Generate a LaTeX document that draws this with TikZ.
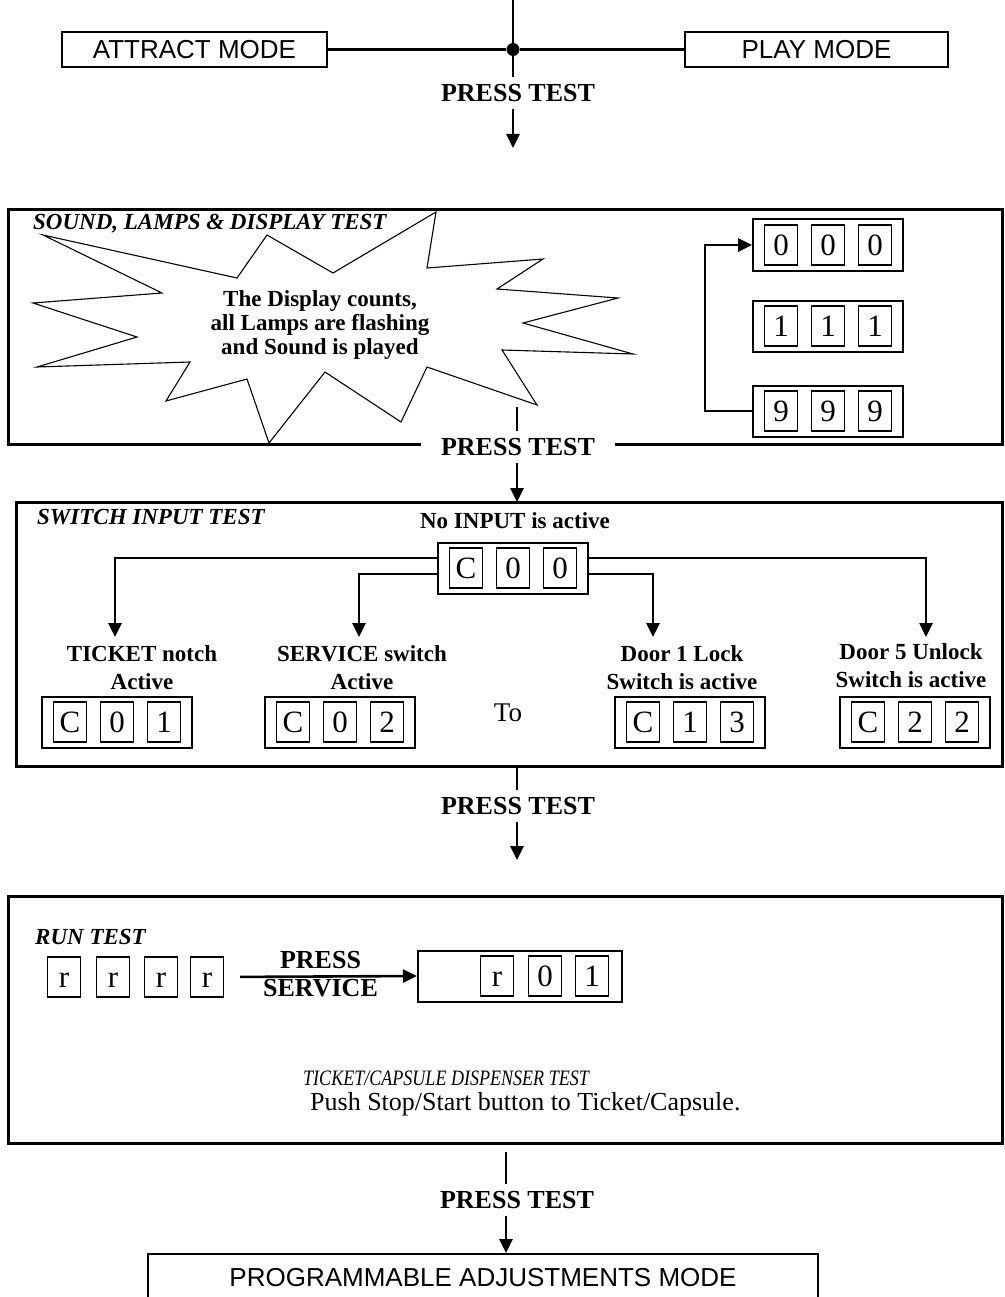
\documentclass[tikz,border=0pt]{standalone}
\usepackage{fontspec}
\setmainfont{Liberation Serif}
\newfontfamily\arialfont{Liberation Sans}
\usetikzlibrary{positioning, arrows.meta}

% one display: outer frame and three digit windows
\newcommand{\dispbox}[5]{%
  \node[panel] (#1) at #2 {};
  \node[digit] (#1a) at ([xshift=-47pt]#1.center) {#3};
  \node[digit] (#1b) at (#1.center) {#4};
  \node[digit] (#1c) at ([xshift=47pt]#1.center) {#5};
}

\begin{document}
\begin{tikzpicture}[x=1pt, y=-1pt,
    testframe/.style={draw, line width=3pt},
    modebox/.style={draw, line width=2pt, minimum height=35pt, font=\arialfont\fontsize{26}{30}\selectfont},
    panel/.style={draw, line width=2pt, minimum width=150pt, minimum height=51pt},
    digit/.style={draw, line width=1.1pt, minimum width=33pt, minimum height=40pt, inner sep=0pt,
      text height=21pt, text depth=0pt, font=\fontsize{31}{31}\selectfont},
    press/.style={font=\bfseries\fontsize{26}{30}\selectfont, align=center, inner xsep=2pt, inner ysep=7pt},
    boldtext/.style={font=\bfseries\fontsize{23}{28}\selectfont, align=center},
    heading/.style={font=\bfseries\itshape\fontsize{23}{28}\selectfont, anchor=west, inner sep=0pt},
    link/.style={line width=2.6pt},
    flow/.style={link, -{Triangle[length=14pt, width=13pt]}},
  ]
  \useasboundingbox (0,0) rectangle (1004,1297);
  \clip (0,0) rectangle (1004,1297);

  % mode selection
  \node[modebox, minimum width=265pt] (attract) at (194.5,49.5) {ATTRACT MODE};
  \node[modebox, minimum width=263pt] (play) at (816.5,49.5) {PLAY MODE};
  \node[circle, fill, inner sep=0pt, minimum size=13pt] (join) at (513,49.5) {};
  \coordinate (entry) at (513,0);
  \node[press] (pt0) at (518,93) {PRESS TEST};
  \coordinate (arr0) at (513,148);
  \draw[line width=2.2pt] (attract) -- (join) -- (play);
  \draw[line width=1.8pt] (entry) -- (join) -- (join |- pt0.north);
  \draw[flow] (pt0.south -| join) -- (arr0);

  % sound, lamps & display test
  \draw[testframe] (8,210) rectangle (1002,444);
  \draw[line width=1.1pt] (43,235) -- (237,278) -- (267,235) -- (333,273) -- (436,212)
    -- (427,268) -- (543,259) -- (497,289) -- (618,298) -- (523,323) -- (633,354)
    -- (502,350) -- (537,405) -- (427,367) -- (401,422) -- (325,372) -- (269,443)
    -- (247,379) -- (166,401) -- (190,362) -- (37,367) -- (137,337) -- (33,303)
    -- (162,293) -- cycle;
  \node[heading] (t1) at (33,224) {SOUND, LAMPS \& DISPLAY TEST};
  \node[boldtext, font=\bfseries\fontsize{23}{24}\selectfont] (burst) at (320,325)
    {The Display counts,\\all Lamps are flashing\\and Sound is played};
  \dispbox{d0}{(828,245)}{0}{0}{0}
  \dispbox{d1}{(828,326)}{1}{1}{1}
  \dispbox{d9}{(828,411)}{9}{9}{9}
  \draw[flow] (d9.west) -- ++(-47,0) |- (d0.west);
  \node[press, fill=white, inner xsep=20pt] (pt1) at (518,447) {PRESS TEST};
  \coordinate (tick1) at (517,407);
  \coordinate (arr1) at (517,502);
  \draw[link] (tick1) -- (tick1 |- pt1.north);
  \draw[flow] (pt1.south -| tick1) -- (arr1);

  % switch input test
  \draw[testframe] (16,502) rectangle (1002,766);
  \node[heading] (t2) at (37,517) {SWITCH INPUT TEST};
  \node[boldtext] (noinput) at (515,521) {No INPUT is active};
  \dispbox{dc0}{(513,568)}{C}{0}{0}
  \node[boldtext] (lticket) at (142,668) {TICKET notch\\Active};
  \node[boldtext] (lservice) at (362,668) {SERVICE switch\\Active};
  \node[boldtext] (ldoor1) at (682,668) {Door 1 Lock\\Switch is active};
  \node[boldtext] (ldoor5) at (911,666) {Door 5 Unlock\\Switch is active};
  \coordinate (eticket) at (115,637);
  \coordinate (eservice) at (359,637);
  \coordinate (edoor1) at (653,637);
  \coordinate (edoor5) at (926,637);
  \draw[flow] ([yshift=10pt]dc0.west) -| (eticket);
  \draw[flow] ([yshift=-6pt]dc0.west) -| (eservice);
  \draw[flow] ([yshift=-6pt]dc0.east) -| (edoor1);
  \draw[flow] ([yshift=10pt]dc0.east) -| (edoor5);
  \dispbox{dc1}{(117,722)}{C}{0}{1}
  \dispbox{dc2}{(340,722)}{C}{0}{2}
  \dispbox{dc13}{(690,722)}{C}{1}{3}
  \dispbox{dc22}{(915,722)}{C}{2}{2}
  \node[font=\fontsize{27}{30}\selectfont] (to) at (508,713) {To};
  \coordinate (tick2) at (517,766);
  \coordinate (arr2) at (517,860);
  \node[press] (pt2) at (518,806) {PRESS TEST};
  \draw[link] (tick2) -- (tick2 |- pt2.north);
  \draw[flow] (pt2.south -| tick2) -- (arr2);

  % run test
  \draw[testframe] (8,896) rectangle (1002,1143);
  \node[heading] (t3) at (35,937) {RUN TEST};
  \node[digit] (r1) at (64,977) {r};
  \node[digit] (r2) at (113,977) {r};
  \node[digit] (r3) at (161,977) {r};
  \node[digit] (r4) at (207,977) {r};
  \node[panel, minimum width=204pt] (dr) at (520,976) {};
  \node[digit] (dra) at ([xshift=-23pt]dr.center) {r};
  \node[digit] (drb) at ([xshift=25pt]dr.center) {0};
  \node[digit] (drc) at ([xshift=72pt]dr.center) {1};
  \draw[flow, shorten <=16pt] (r4.east) -- (dr.west)
    node[midway, above=-1pt, press] {PRESS}
    node[midway, below=-6pt, press] {SERVICE};
  \node[font=\itshape\fontsize{22}{24}\selectfont, anchor=west, inner sep=0pt] (dispenser) at (303,1078)
    {\scalebox{0.82}[1]{TICKET/CAPSULE DISPENSER TEST}};
  \node[font=\fontsize{26}{30}\selectfont, anchor=west, inner sep=0pt] (push) at (310,1104)
    {Push Stop/Start button to Ticket/Capsule.};

  % programmable adjustments
  \node[modebox, minimum width=670pt, anchor=north, inner ysep=0pt,
        text height=32pt, text depth=60pt] (prog) at (483,1253) {PROGRAMMABLE ADJUSTMENTS MODE};
  \coordinate (tick3) at (506,1152);
  \node[press] (pt3) at (517,1200) {PRESS TEST};
  \draw[link] (tick3) -- (tick3 |- pt3.north);
  \draw[flow] (pt3.south -| tick3) -- (prog.north -| tick3);
\end{tikzpicture}
\end{document}
